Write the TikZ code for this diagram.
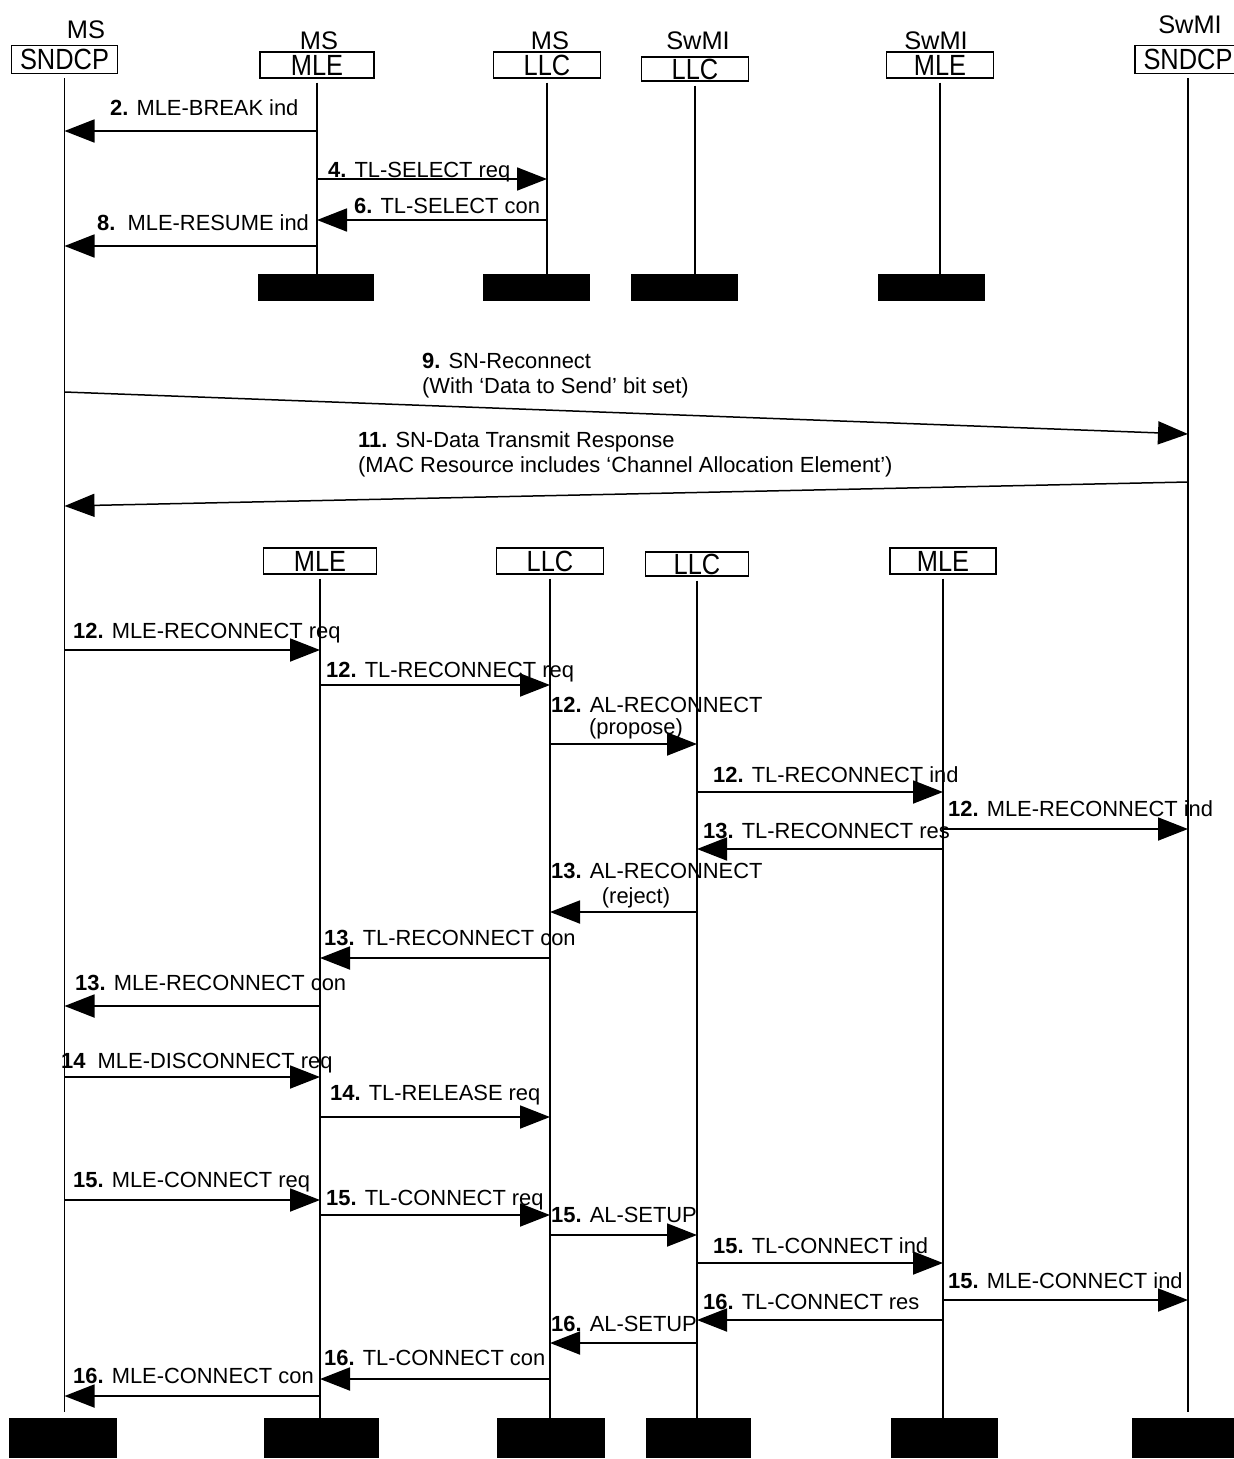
\documentclass[tikz,border=0pt]{standalone}
\usepackage{fontspec}
\setmainfont{Liberation Sans}
\usepackage{graphicx}
\usepackage{tikz}
\usetikzlibrary{positioning,arrows.meta}
\newcommand{\hdrfont}{\fontsize{25.4}{30}\selectfont}
\newcommand{\msgfont}{\fontsize{21.9}{26}\selectfont}
\newcommand{\boxtxt}[1]{\raisebox{-2pt}{\scalebox{1}[1.15]{#1}}}

\begin{document}
\begin{tikzpicture}[x=1pt, y=-1pt,
    >={Triangle[length=30pt,width=23pt]},
    hdr/.style={draw, line width=1.2pt, inner sep=0pt, minimum height=26pt, font=\hdrfont},
    who/.style={anchor=base, inner sep=0pt, font=\hdrfont},
    lbl/.style={anchor=base west, inner sep=0pt, font=\msgfont},
    msg/.style={->, line width=1.8pt},
    life/.style={line width=1.3pt},
    bar/.style={fill=black, inner sep=0pt, minimum height=27pt}]
    \useasboundingbox (0,0) rectangle (1234,1459);

    % Entities, first part
    \node[hdr, minimum width=106pt, minimum height=28pt] (msSnd) at (64.5,59.5) {\boxtxt{SNDCP}};
    \node[hdr, minimum width=114pt] (msMle) at (317,65) {\boxtxt{MLE}};
    \node[hdr, minimum width=107pt] (msLlc) at (547,65) {\boxtxt{LLC}};
    \node[hdr, minimum width=107pt, minimum height=24pt] (swLlc) at (695,69) {\boxtxt{LLC}};
    \node[hdr, minimum width=107pt] (swMle) at (940,65) {\boxtxt{MLE}};
    \node[hdr, minimum width=106pt, minimum height=28pt] (swSnd) at (1188,59.5) {\boxtxt{SNDCP}};

    \node[who] (msSndOwn) at (86,38) {MS};
    \node[who] (msMleOwn) at (319,49) {MS};
    \node[who] (msLlcOwn) at (550,49) {MS};
    \node[who] (swLlcOwn) at (698,49) {SwMI};
    \node[who] (swMleOwn) at (936,49) {SwMI};
    \node[who] (swSndOwn) at (1190,33) {SwMI};

    \node[bar, minimum width=116pt] (msMleBar) at (316,287.5) {};
    \node[bar, minimum width=107pt] (msLlcBar) at (536.5,287.5) {};
    \node[bar, minimum width=107pt] (swLlcBar) at (684.5,287.5) {};
    \node[bar, minimum width=107pt] (swMleBar) at (931.5,287.5) {};

    % Entities, second part
    \node[hdr, minimum width=113pt] (loMsMle) at (320,561) {\boxtxt{MLE}};
    \node[hdr, minimum width=107pt] (loMsLlc) at (550,561) {\boxtxt{LLC}};
    \node[hdr, minimum width=103pt, minimum height=24pt] (loSwLlc) at (697,564) {\boxtxt{LLC}};
    \node[hdr, minimum width=106pt] (loSwMle) at (943,561) {\boxtxt{MLE}};

    \node[bar, minimum width=108pt, minimum height=40pt] (msSndBar) at (63,1438) {};
    \node[bar, minimum width=115pt, minimum height=40pt] (loMsMleBar) at (321.5,1438) {};
    \node[bar, minimum width=108pt, minimum height=40pt] (loMsLlcBar) at (551,1438) {};
    \node[bar, minimum width=105pt, minimum height=40pt] (loSwLlcBar) at (698.5,1438) {};
    \node[bar, minimum width=107pt, minimum height=40pt] (loSwMleBar) at (944.5,1438) {};
    \node[bar, minimum width=108pt, minimum height=40pt] (swSndBar) at (1186,1438) {};

    % Lifelines
    \draw[life] ([yshift=-4pt]msSnd.south) -- ([yshift=6pt]msSnd.south |- msSndBar.north);
    \draw[life] ([yshift=-4pt]swSnd.south) -- ([yshift=6pt]swSnd.south |- swSndBar.north);
    \draw[life] ([yshift=-4pt]msMle.south) -- (msMle.south |- msMleBar.north);
    \draw[life] ([yshift=-4pt]msLlc.south) -- (msLlc.south |- msLlcBar.north);
    \draw[life] ([yshift=-4pt]swLlc.south) -- (swLlc.south |- swLlcBar.north);
    \draw[life] ([yshift=-4pt]swMle.south) -- (swMle.south |- swMleBar.north);
    \draw[life] ([yshift=-4pt]loMsMle.south) -- (loMsMle.south |- loMsMleBar.north);
    \draw[life] ([yshift=-4pt]loMsLlc.south) -- (loMsLlc.south |- loMsLlcBar.north);
    \draw[life] ([yshift=-4pt]loSwLlc.south) -- (loSwLlc.south |- loSwLlcBar.north);
    \draw[life] ([yshift=-4pt]loSwMle.south) -- (loSwMle.south |- loSwMleBar.north);

    % Break and select
    \draw[msg] (msMle |- 0,131) -- (msSnd |- 0,131);
    \node[lbl] (m2) at (110,115) {\textbf{2.} MLE-BREAK ind};
    \draw[msg] (msMle |- 0,179) -- (msLlc |- 0,179);
    \node[lbl] (m4) at (328,177) {\textbf{4.} TL-SELECT req};
    \draw[msg] (msLlc |- 0,220) -- (msMle |- 0,220);
    \node[lbl] (m6) at (354,213) {\textbf{6.} TL-SELECT con};
    \draw[msg] (msMle |- 0,246) -- (msSnd |- 0,246);
    \node[lbl] (m8) at (97,230) {\textbf{8.}\ \ MLE-RESUME ind};

    % Air interface
    \draw[msg, line width=1.5pt] (msSnd |- 0,392) -- (swSnd |- 0,434);
    \node[lbl] (m9) at (422,368) {\textbf{9.} SN-Reconnect};
    \node[lbl] (m9b) at ([yshift=-25pt]m9.base west) {(With ‘Data to Send’ bit set)};
    \draw[msg, line width=1.5pt] (swSnd |- 0,482) -- (msSnd |- 0,506);
    \node[lbl] (m11) at (358,447) {\textbf{11.} SN-Data Transmit Response};
    \node[lbl] (m11b) at ([yshift=-25pt]m11.base west) {(MAC Resource includes ‘Channel Allocation Element’)};

    % Reconnect
    \draw[msg] (msSnd |- 0,650) -- (loMsMle |- 0,650);
    \node[lbl] (m12a) at (73,638) {\textbf{12.} MLE-RECONNECT req};
    \draw[msg] (loMsMle |- 0,685) -- (loMsLlc |- 0,685);
    \node[lbl] (m12b) at (326,677) {\textbf{12.} TL-RECONNECT req};
    \draw[msg] (loMsLlc |- 0,744) -- (loSwLlc |- 0,744);
    \node[lbl] (m12c) at (551,712) {\textbf{12.} AL-RECONNECT};
    \node[lbl, anchor=base] (m12cb) at (636,734) {(propose)};
    \draw[msg] (loSwLlc |- 0,792) -- (loSwMle |- 0,792);
    \node[lbl] (m12d) at (713,782) {\textbf{12.} TL-RECONNECT ind};
    \draw[msg] (loSwMle |- 0,829) -- (swSnd |- 0,829);
    \node[lbl] (m12e) at (948,816) {\textbf{12.} MLE-RECONNECT ind};
    \draw[msg] (loSwMle |- 0,849) -- (loSwLlc |- 0,849);
    \node[lbl] (m13a) at (703,838) {\textbf{13.} TL-RECONNECT res};
    \draw[msg] (loSwLlc |- 0,912) -- (loMsLlc |- 0,912);
    \node[lbl] (m13b) at (551,878) {\textbf{13.} AL-RECONNECT};
    \node[lbl, anchor=base] (m13bb) at (636,903) {(reject)};
    \draw[msg] (loMsLlc |- 0,958) -- (loMsMle |- 0,958);
    \node[lbl] (m13c) at (324,945) {\textbf{13.} TL-RECONNECT con};
    \draw[msg] (loMsMle |- 0,1006) -- (msSnd |- 0,1006);
    \node[lbl] (m13d) at (75,990) {\textbf{13.} MLE-RECONNECT con};

    % Disconnect
    \draw[msg] (msSnd |- 0,1077) -- (loMsMle |- 0,1077);
    \node[lbl] (m14a) at (61,1068) {\textbf{14}\ \ MLE-DISCONNECT req};
    \draw[msg] (loMsMle |- 0,1117) -- (loMsLlc |- 0,1117);
    \node[lbl] (m14b) at (330,1100) {\textbf{14.} TL-RELEASE req};

    % Connect
    \draw[msg] (msSnd |- 0,1200) -- (loMsMle |- 0,1200);
    \node[lbl] (m15a) at (73,1187) {\textbf{15.} MLE-CONNECT req};
    \draw[msg] (loMsMle |- 0,1215) -- (loMsLlc |- 0,1215);
    \node[lbl] (m15b) at (326,1205) {\textbf{15.} TL-CONNECT req};
    \draw[msg] (loMsLlc |- 0,1235) -- (loSwLlc |- 0,1235);
    \node[lbl] (m15c) at (551,1222) {\textbf{15.} AL-SETUP};
    \draw[msg] (loSwLlc |- 0,1263) -- (loSwMle |- 0,1263);
    \node[lbl] (m15d) at (713,1253) {\textbf{15.} TL-CONNECT ind};
    \draw[msg] (loSwMle |- 0,1300) -- (swSnd |- 0,1300);
    \node[lbl] (m15e) at (948,1288) {\textbf{15.} MLE-CONNECT ind};
    \draw[msg] (loSwMle |- 0,1320) -- (loSwLlc |- 0,1320);
    \node[lbl] (m16a) at (703,1309) {\textbf{16.} TL-CONNECT res};
    \draw[msg] (loSwLlc |- 0,1343) -- (loMsLlc |- 0,1343);
    \node[lbl] (m16b) at (551,1331) {\textbf{16.} AL-SETUP};
    \draw[msg] (loMsLlc |- 0,1379) -- (loMsMle |- 0,1379);
    \node[lbl] (m16c) at (324,1365) {\textbf{16.} TL-CONNECT con};
    \draw[msg] (loMsMle |- 0,1396) -- (msSnd |- 0,1396);
    \node[lbl] (m16d) at (73,1383) {\textbf{16.} MLE-CONNECT con};
\end{tikzpicture}
\end{document}
